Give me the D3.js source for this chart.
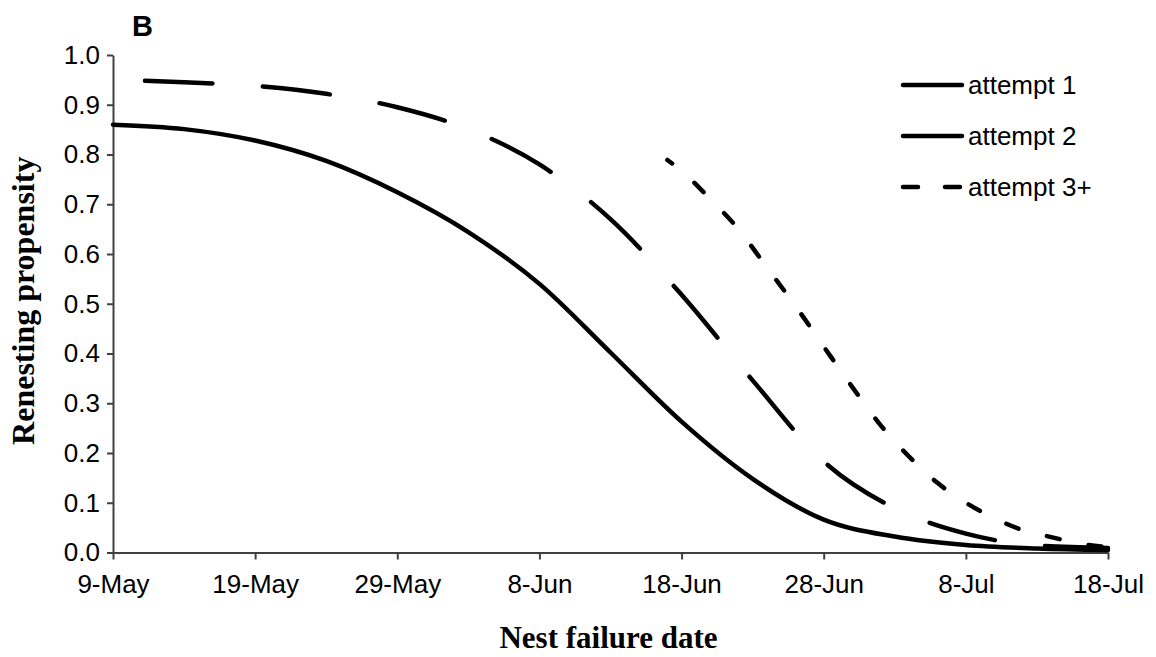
<!DOCTYPE html>
<html>
<head>
<meta charset="utf-8">
<script src="https://cdn.jsdelivr.net/npm/d3@7"></script>
<style>
  body { margin: 0; background: #fff; }
  .tick text { font-family: "Liberation Sans", Arial, sans-serif; font-size: 26px; fill: #000; }
  .axis path, .axis line { stroke: #404040; stroke-width: 2px; }
</style>
</head>
<body>
<div id="chart"></div>
<script>
// Days after 9 May at which each curve was read, and the renesting propensity there
const attempt1Days = [0, 5, 10, 15, 20, 25, 30, 35, 40, 45, 50, 55, 60, 65, 70];
const attempt1Vals = [0.860, 0.851, 0.828, 0.787, 0.724, 0.644, 0.540, 0.402, 0.263, 0.148, 0.066, 0.032, 0.015, 0.008, 0.005];

const attempt2Days = [2.25, 5, 10, 15, 20, 25, 30, 35, 40, 45, 50, 55, 60, 65, 70];
const attempt2Vals = [0.948, 0.945, 0.938, 0.922, 0.895, 0.851, 0.780, 0.670, 0.518, 0.346, 0.183, 0.089, 0.038, 0.014, 0.009];

const attempt3Days = [39, 40, 42, 44, 46, 48, 50, 52, 54, 56, 58, 60, 62, 64, 66, 68, 70];
const attempt3Vals = [0.789, 0.767, 0.711, 0.650, 0.573, 0.496, 0.414, 0.333, 0.256, 0.193, 0.140, 0.100, 0.069, 0.045, 0.031, 0.018, 0.011];

const seriesNames = ["attempt 1", "attempt 2", "attempt 3+"];
const xTickLabels = ["9-May", "19-May", "29-May", "8-Jun", "18-Jun", "28-Jun", "8-Jul", "18-Jul"];
const yTicks = [0, 0.1, 0.2, 0.3, 0.4, 0.5, 0.6, 0.7, 0.8, 0.9, 1.0];

const start = Date.UTC(2009, 4, 9);
const toDate = d => new Date(start + d * 864e5);

const margin = { top: 55, right: 48, bottom: 104.5, left: 113 };
const W = 1156, H = 657;
const width = W - margin.left - margin.right;
const height = H - margin.top - margin.bottom;

const svg = d3.select("#chart").append("svg")
    .attr("width", W)
    .attr("height", H);

const g = svg.append("g")
    .attr("transform", `translate(${margin.left},${margin.top})`);

const x = d3.scaleUtc().domain([toDate(0), toDate(70)]).range([0, width]);
const y = d3.scaleLinear().domain([0, 1]).range([height, 0]);

const tickDates = d3.range(0, 71, 10).map(toDate);

// x axis
const xAxis = g.append("g")
    .attr("class", "axis")
    .attr("transform", `translate(0,${height})`)
    .call(d3.axisBottom(x).tickValues(tickDates).tickSize(7).tickSizeOuter(0)
        .tickFormat((d, i) => xTickLabels[i]));
xAxis.selectAll("text").attr("y", 40).attr("dy", 0);

// y axis
const yAxis = g.append("g")
    .attr("class", "axis")
    .call(d3.axisLeft(y).tickValues(yTicks).tickSize(6).tickSizeOuter(0)
        .tickFormat(d3.format(".1f")));
yAxis.selectAll("text").attr("x", -13);

// curves
const line = d3.line()
    .x(d => x(toDate(d[0])))
    .y(d => y(d[1]))
    .curve(d3.curveMonotoneX);

const series = [
    { name: seriesNames[0], pts: d3.zip(attempt1Days, attempt1Vals), dash: null, legendDash: null, offset: 0 },
    { name: seriesNames[1], pts: d3.zip(attempt2Days, attempt2Vals), dash: "67.5,50.5", legendDash: null, offset: 0 },
    { name: seriesNames[2], pts: d3.zip(attempt3Days, attempt3Vals), dash: "13,29.5", legendDash: "15,27", offset: 7 }
];

g.selectAll(".curve")
    .data(series)
    .enter()
    .append("path")
    .attr("class", "curve")
    .attr("d", d => line(d.pts))
    .attr("fill", "none")
    .attr("stroke", "#000")
    .attr("stroke-width", 4.5)
    .attr("stroke-linecap", "round")
    .attr("stroke-dasharray", d => d.dash)
    .attr("stroke-dashoffset", d => d.offset);

// legend
const legend = svg.selectAll(".legend")
    .data(series)
    .enter()
    .append("g")
    .attr("class", "legend")
    .attr("transform", (d, i) => `translate(903,${85 + i * 51})`);

legend.append("line")
    .attr("x1", 0)
    .attr("x2", 59)
    .attr("stroke", "#000")
    .attr("stroke-width", 4.5)
    .attr("stroke-linecap", "round")
    .attr("stroke-dasharray", d => d.legendDash);

legend.append("text")
    .attr("x", 65)
    .attr("y", 9)
    .style("font-family", "'Liberation Sans', Arial, sans-serif")
    .style("font-size", "26px")
    .text(d => d.name);

// panel letter
svg.append("text")
    .attr("x", 132)
    .attr("y", 36)
    .style("font-family", "'Liberation Sans', Arial, sans-serif")
    .style("font-weight", "bold")
    .style("font-size", "29px")
    .text("B");

// axis titles
svg.append("text")
    .attr("x", margin.left + width / 2 - 2)
    .attr("y", 648)
    .style("text-anchor", "middle")
    .style("font-family", "'Liberation Serif', 'Times New Roman', serif")
    .style("font-weight", "bold")
    .style("font-size", "31px")
    .text("Nest failure date");

svg.append("text")
    .attr("transform", `translate(34,${margin.top + height / 2 - 3}) rotate(-90)`)
    .style("text-anchor", "middle")
    .style("font-family", "'Liberation Serif', 'Times New Roman', serif")
    .style("font-weight", "bold")
    .style("font-size", "32px")
    .text("Renesting propensity");
</script>
</body>
</html>
